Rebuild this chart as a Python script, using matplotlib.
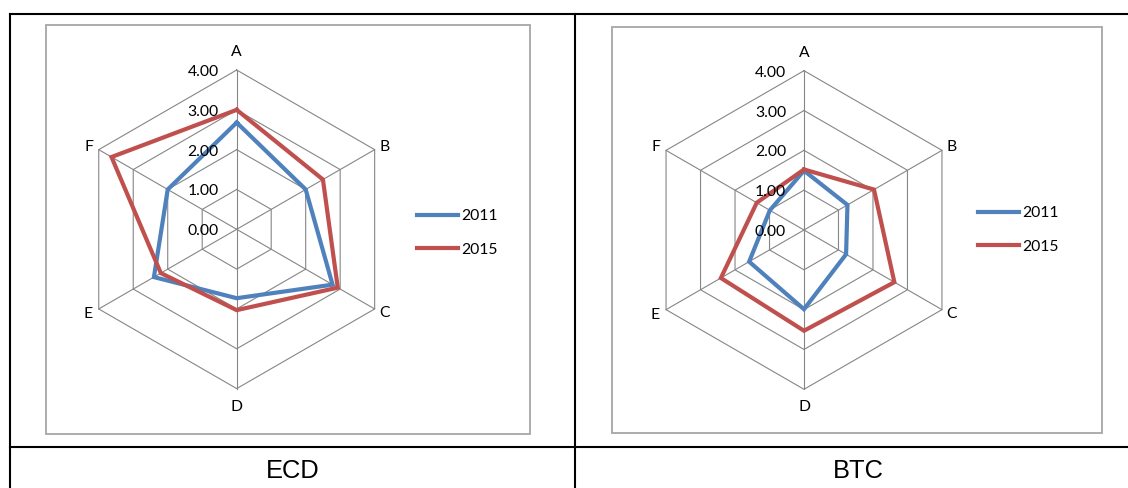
import numpy as np
import matplotlib.pyplot as plt
from matplotlib.lines import Line2D
from matplotlib.patches import Rectangle

W, H = 1128, 488

categories = ["A", "B", "C", "D", "E", "F"]
years = ["2011", "2015"]
ticks = [0, 1, 2, 3, 4]

ecd_2011 = [2.68, 2.00, 2.78, 1.73, 2.40, 2.00]
ecd_2015 = [3.00, 2.50, 2.93, 2.03, 2.20, 3.63]
btc_2011 = [1.49, 1.26, 1.22, 1.99, 1.59, 0.99]
btc_2015 = [1.52, 2.03, 2.62, 2.53, 2.41, 1.37]

colors = ["#4F81BD", "#C0504D"]
grid_col = "#868686"
tick_font = "Lato"
fs = 11.3


def fx(x):
    return x / W


def fy(y):
    return 1 - y / H


def pt(px):
    return px * 72 / 100


def radar(fig, cx, cy, rad, series, leg_x, leg_y):
    half = 200
    ax = fig.add_axes([fx(cx - half), fy(cy + half), 2 * half / W, 2 * half / H])
    lim = ticks[-1] * half / rad
    ax.set_xlim(-lim, lim)
    ax.set_ylim(-lim, lim)
    ax.set_aspect("equal")
    ax.axis("off")

    ang = np.deg2rad(90 - 60 * np.arange(len(categories)))
    ang_c = np.append(ang, ang[0])

    # hexagonal grid and spokes
    for t in ticks[1:]:
        ax.plot(t * np.cos(ang_c), t * np.sin(ang_c), color=grid_col, lw=0.8, zorder=1)
    rmax = ticks[-1]
    for a in ang:
        ax.plot([0, rmax * np.cos(a)], [0, rmax * np.sin(a)], color=grid_col, lw=0.8, zorder=1)

    # value labels along the A spoke
    for t in ticks:
        ax.annotate(f"{t:.2f}", (0, t), xytext=(pt(-18), pt(-2)), textcoords="offset points",
                    ha="right", va="center", fontsize=fs, family=tick_font, zorder=3)

    # category labels
    offs = [(0, 18), (10, 3), (10, -4), (0, -18), (-11, -5), (-10, 3)]
    for lab, a, (ox, oy) in zip(categories, ang, offs):
        ax.annotate(lab, (rmax * np.cos(a), rmax * np.sin(a)), xytext=(pt(ox), pt(oy)),
                    textcoords="offset points", ha="center", va="center",
                    fontsize=fs, family=tick_font)

    for vals, col, yr in zip(series, colors, years):
        v = np.array(vals + vals[:1])
        ax.plot(v * np.cos(ang_c), v * np.sin(ang_c), color=col, lw=3.0,
                solid_joinstyle="miter", label=yr, zorder=2)

    ax.legend(loc="center left", bbox_to_anchor=(fx(leg_x), fy(leg_y)),
              bbox_transform=fig.transFigure, frameon=False, borderpad=0,
              borderaxespad=0, handlelength=2.6, handletextpad=0.2,
              labelspacing=1.25, prop={"family": tick_font, "size": fs})
    return ax


fig = plt.figure(figsize=(W / 100, H / 100), dpi=100)

# chart frames
for x0, y0, x1, y1 in [(46, 25, 530, 434), (612, 27, 1102, 433)]:
    fig.add_artist(Rectangle((fx(x0), fy(y1)), fx(x1 - x0), (y1 - y0) / H,
                             transform=fig.transFigure, fill=False,
                             edgecolor="#a6a6a6", lw=1.3))

radar(fig, 236.7, 229.3, 159.3, [ecd_2011, ecd_2015], 417, 233)
radar(fig, 804, 230, 159.3, [btc_2011, btc_2015], 978, 230)

# table rules
for xs, ys in [((10, W), (14.3, 14.3)), ((10, W), (446.7, 446.7)),
               ((10, 10), (14.3, H)), ((575, 575), (14.3, H))]:
    fig.add_artist(Line2D([fx(x) for x in xs], [fy(y) for y in ys],
                          transform=fig.transFigure, color="black", lw=1.5))

fig.text(fx(292.5), fy(471.5), "ECD", ha="center", va="center",
         fontsize=18.4, family="Liberation Sans")
fig.text(fx(858), fy(471.5), "BTC", ha="center", va="center",
         fontsize=18.4, family="Liberation Sans")

fig.savefig("out.png", dpi=100)
